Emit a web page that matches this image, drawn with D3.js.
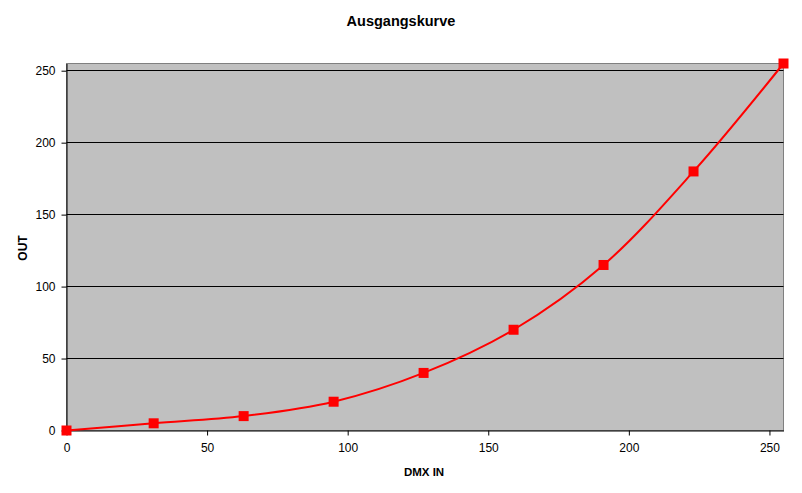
<!DOCTYPE html>
<html><head><meta charset="utf-8">
<script src="https://cdn.jsdelivr.net/npm/d3@7"></script>
<style>body{margin:0;background:#fff}svg{display:block}text{font-family:"Liberation Sans",Arial,sans-serif}</style>
</head><body>
<script>
const dmxIn = [0, 31, 63, 95, 127, 159, 191, 223, 255];
const outVals = [0, 5, 10, 20, 40, 70, 115, 180, 255];
const xTicks = [0, 50, 100, 150, 200, 250];
const yTicks = [0, 50, 100, 150, 200, 250];
const title = "Ausgangskurve";
const xTitle = "DMX IN";
const yTitle = "OUT";

const W = 802, H = 493;
const svg = d3.select("body").append("svg").attr("width", W).attr("height", H);
const x = d3.scaleLinear().domain([0, 255]).range([66.5, 783.5]);
const y = d3.scaleLinear().domain([0, 255]).range([430.5, 63.5]);

svg.append("rect").attr("x", x(0)).attr("y", y(255)).attr("width", x(255) - x(0)).attr("height", y(0) - y(255))
  .attr("fill", "#c0c0c0").attr("stroke", "#808080").attr("stroke-width", 1);

svg.append("g").selectAll("line").data(yTicks.filter(d => d > 0)).join("line")
  .attr("x1", x(0)).attr("x2", x(255)).attr("y1", d => Math.floor(y(d)) + 0.5).attr("y2", d => Math.floor(y(d)) + 0.5)
  .attr("stroke", "#000").attr("stroke-width", 1);

const yAxis = svg.append("g").attr("transform", `translate(${x(0)},0)`)
  .call(d3.axisLeft(y).tickValues(yTicks).tickSize(5).tickPadding(6).tickSizeOuter(0));
const xAxis = svg.append("g").attr("transform", `translate(0,${y(0)})`)
  .call(d3.axisBottom(x).tickValues(xTicks).tickSize(5).tickPadding(8).tickSizeOuter(0));
[xAxis, yAxis].forEach(g => {
  g.select(".domain").attr("stroke", "#000");
  g.selectAll("line").attr("stroke", "#000");
  g.selectAll("text").attr("font-size", 12).attr("fill", "#000").attr("font-family", "Liberation Sans, Arial, sans-serif");
});

const pts = dmxIn.map((d, i) => [d, outVals[i]]);
const line = d3.line().x(d => x(d[0])).y(d => y(d[1])).curve(d3.curveCatmullRom.alpha(0.5));
svg.append("path").datum(pts).attr("d", line).attr("fill", "none").attr("stroke", "#ff0000").attr("stroke-width", 2);

svg.append("g").selectAll("rect").data(pts).join("rect")
  .attr("x", d => x(d[0]) - 5).attr("y", d => y(d[1]) - 5).attr("width", 10).attr("height", 10).attr("fill", "#ff0000");

svg.append("text").attr("x", 401).attr("y", 26).attr("text-anchor", "middle").attr("font-weight", "bold").attr("font-size", 14.5).text(title);
svg.append("text").attr("x", 424).attr("y", 476).attr("text-anchor", "middle").attr("font-weight", "bold").attr("font-size", 11.5).text(xTitle);
svg.append("text").attr("transform", "translate(27,248) rotate(-90)").attr("text-anchor", "middle").attr("font-weight", "bold").attr("font-size", 12).text(yTitle);
</script>
</body></html>
